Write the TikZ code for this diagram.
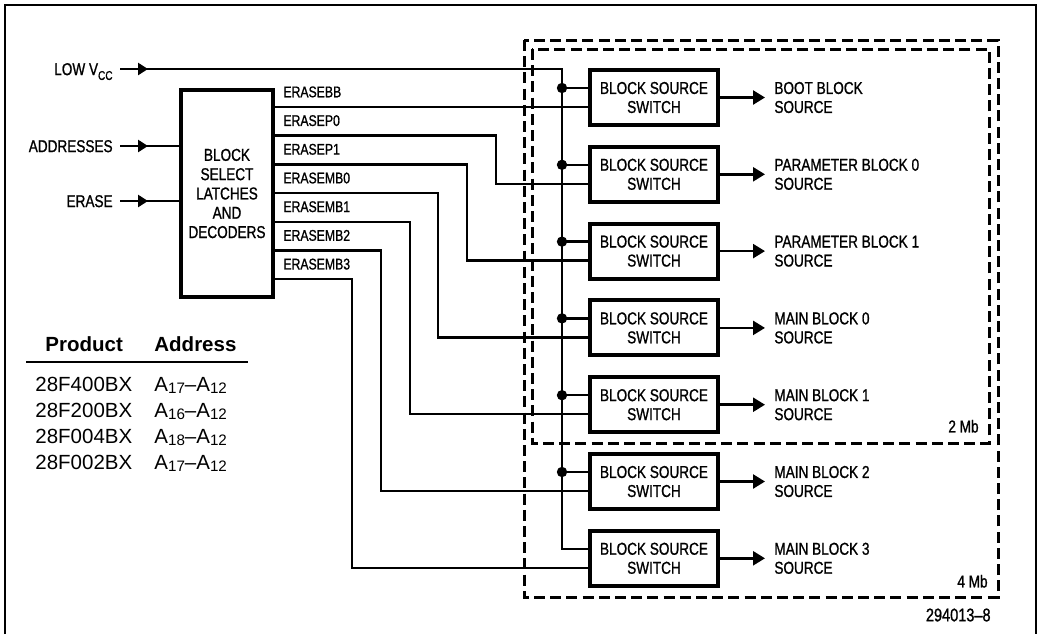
\documentclass[tikz,border=0pt]{standalone}
\usepackage{fontspec}
\setmainfont{Liberation Sans}
\newfontfamily\dinfont[FakeStretch=0.79, FakeBold=1]{Liberation Sans}
\usetikzlibrary{arrows.meta, positioning, decorations.markings}

\newcommand{\lowidx}[2][0.28em]{\raisebox{-#1}{\scalebox{0.74}{#2}}}

\begin{document}
\begin{tikzpicture}[
    x=0.5pt, y=-0.5pt,
    wire/.style={line width=1.25pt},
    latchbox/.style={rectangle, draw, line width=2pt, minimum width=46pt, minimum height=103.5pt, align=center, font=\dinfont\fontsize{8.6}{9.65}\selectfont},
    switchbox/.style={rectangle, draw, line width=2pt, minimum width=64pt, minimum height=27.5pt, align=center, font=\dinfont\fontsize{8.6}{9.5}\selectfont},
    inlabel/.style={anchor=east, inner xsep=3.5pt, inner ysep=0pt, text height=6.1pt, text depth=0pt, font=\dinfont\fontsize{8.6}{9.5}\selectfont},
    siglabel/.style={inner sep=0pt, font=\dinfont\fontsize{7.75}{8}\selectfont},
    outlabel/.style={inner sep=0pt, align=left, font=\dinfont\fontsize{8.6}{9.5}\selectfont},
    sizelabel/.style={inner sep=0pt, font=\dinfont\fontsize{8.6}{9.5}\selectfont},
    dashbox/.style={line width=1.5pt, dash pattern=on 5.5pt off 2.6pt},
    inarrow/.style={wire, postaction={decorate}, decoration={markings, mark=at position 14pt with {\arrow{Triangle[length=5pt,width=6pt]}}}},
    outarrow/.style={wire, -{Triangle[length=6pt,width=7pt]}, shorten >=4.5pt},
    tabhead/.style={anchor=base west, inner sep=0pt, font=\bfseries\fontsize{10.25}{12}\selectfont},
    tabcell/.style={anchor=base west, inner sep=0pt, font=\fontsize{10.25}{12}\selectfont}
]
\useasboundingbox (0,0) rectangle (1039,634);

% Frame
\draw[line width=1pt] (5,634) -- (5,5) -- (1036,5) -- (1036,634);

% Block select latches
\node[latchbox] (latch) at (227,193.5) {BLOCK\\SELECT\\LATCHES\\AND\\DECODERS};

% Inputs
\node[inlabel] (lowvcc) at (120,69) {LOW V\lowidx{CC}};
\node[inlabel] (addr) at (120,146) {ADDRESSES};
\node[inlabel] (erase) at (120,201) {ERASE};

\draw[inarrow] (addr.east) -- (addr.east -| latch.west);
\draw[inarrow] (erase.east) -- (erase.east -| latch.west);

% Block source switches
\node[switchbox] (sw1) at (654,97.5) {BLOCK SOURCE\\SWITCH};
\node[switchbox, below=8.9pt of sw1] (sw2) {BLOCK SOURCE\\SWITCH};
\node[switchbox, below=8.9pt of sw2] (sw3) {BLOCK SOURCE\\SWITCH};
\node[switchbox, below=8.9pt of sw3] (sw4) {BLOCK SOURCE\\SWITCH};
\node[switchbox, below=8.9pt of sw4] (sw5) {BLOCK SOURCE\\SWITCH};
\node[switchbox, below=8.9pt of sw5] (sw6) {BLOCK SOURCE\\SWITCH};
\node[switchbox, below=8.9pt of sw6] (sw7) {BLOCK SOURCE\\SWITCH};

% Switch inputs (upper from Vcc bus, lower from erase lines)
\coordinate (up1) at ([yshift=4.75pt]sw1.west);
\coordinate (up2) at ([yshift=4.75pt]sw2.west);
\coordinate (up3) at ([yshift=4.75pt]sw3.west);
\coordinate (up4) at ([yshift=4.75pt]sw4.west);
\coordinate (up5) at ([yshift=4.75pt]sw5.west);
\coordinate (up6) at ([yshift=4.75pt]sw6.west);
\coordinate (up7) at ([yshift=4.75pt]sw7.west);
\coordinate (in1) at ([yshift=-4.75pt]sw1.west);
\coordinate (in2) at ([yshift=-4.75pt]sw2.west);
\coordinate (in3) at ([yshift=-4.75pt]sw3.west);
\coordinate (in4) at ([yshift=-4.75pt]sw4.west);
\coordinate (in5) at ([yshift=-4.75pt]sw5.west);
\coordinate (in6) at ([yshift=-4.75pt]sw6.west);
\coordinate (in7) at ([yshift=-4.75pt]sw7.west);

% Vcc bus
\coordinate (bustop) at (562,69);
\draw[inarrow] (lowvcc.east) -- (bustop) |- (up7);
\draw[wire] (bustop |- up1) -- (up1);
\draw[wire] (bustop |- up2) -- (up2);
\draw[wire] (bustop |- up3) -- (up3);
\draw[wire] (bustop |- up4) -- (up4);
\draw[wire] (bustop |- up5) -- (up5);
\draw[wire] (bustop |- up6) -- (up6);
\fill (bustop |- up1) circle (2.6pt);
\fill (bustop |- up2) circle (2.6pt);
\fill (bustop |- up3) circle (2.6pt);
\fill (bustop |- up4) circle (2.6pt);
\fill (bustop |- up5) circle (2.6pt);
\fill (bustop |- up6) circle (2.6pt);

% Erase lines out of the latches
\coordinate (eBB) at (latch.east |- in1);
\coordinate[below=14.35pt of eBB] (eP0);
\coordinate[below=14.35pt of eP0] (eP1);
\coordinate[below=14.35pt of eP1] (eMB0);
\coordinate[below=14.35pt of eMB0] (eMB1);
\coordinate[below=14.35pt of eMB1] (eMB2);
\coordinate[below=14.35pt of eMB2] (eMB3);

\node[siglabel, above right=4.6pt and 4pt of eBB] (lblBB) {ERASEBB};
\node[siglabel, above right=4.6pt and 4pt of eP0] (lblP0) {ERASEP0};
\node[siglabel, above right=4.6pt and 4pt of eP1] (lblP1) {ERASEP1};
\node[siglabel, above right=4.6pt and 4pt of eMB0] (lblMB0) {ERASEMB0};
\node[siglabel, above right=4.6pt and 4pt of eMB1] (lblMB1) {ERASEMB1};
\node[siglabel, above right=4.6pt and 4pt of eMB2] (lblMB2) {ERASEMB2};
\node[siglabel, above right=4.6pt and 4pt of eMB3] (lblMB3) {ERASEMB3};

% columns where the erase lines turn down
\coordinate (colP0) at (496,0);
\coordinate (colP1) at (467,0);
\coordinate (colMB0) at (438,0);
\coordinate (colMB1) at (410,0);
\coordinate (colMB2) at (381,0);
\coordinate (colMB3) at (352,0);

\draw[wire] (eBB) -- (in1);
\draw[wire] (eP0) -| (colP0 |- in2) -- (in2);
\draw[wire] (eP1) -| (colP1 |- in3) -- (in3);
\draw[wire] (eMB0) -| (colMB0 |- in4) -- (in4);
\draw[wire] (eMB1) -| (colMB1 |- in5) -- (in5);
\draw[wire] (eMB2) -| (colMB2 |- in6) -- (in6);
\draw[wire] (eMB3) -| (colMB3 |- in7) -- (in7);

% Block source outputs
\node[outlabel, right=27pt of sw1] (out1) {BOOT BLOCK\\SOURCE};
\node[outlabel, right=27pt of sw2] (out2) {PARAMETER BLOCK 0\\SOURCE};
\node[outlabel, right=27pt of sw3] (out3) {PARAMETER BLOCK 1\\SOURCE};
\node[outlabel, right=27pt of sw4] (out4) {MAIN BLOCK 0\\SOURCE};
\node[outlabel, right=27pt of sw5] (out5) {MAIN BLOCK 1\\SOURCE};
\node[outlabel, right=27pt of sw6] (out6) {MAIN BLOCK 2\\SOURCE};
\node[outlabel, right=27pt of sw7] (out7) {MAIN BLOCK 3\\SOURCE};

\draw[outarrow] (sw1) -- (out1);
\draw[outarrow] (sw2) -- (out2);
\draw[outarrow] (sw3) -- (out3);
\draw[outarrow] (sw4) -- (out4);
\draw[outarrow] (sw5) -- (out5);
\draw[outarrow] (sw6) -- (out6);
\draw[outarrow] (sw7) -- (out7);

% 4 Mb and 2 Mb outlines
\draw[dashbox] (524,40) rectangle (998,597) coordinate (mb4se);
\draw[dashbox] (532,49) rectangle (989,443) coordinate (mb2se);
\node[sizelabel, above left=4.5pt and 5pt of mb4se] (mb4) {4 Mb};
\node[sizelabel, above left=5pt and 5pt of mb2se] (mb2) {2 Mb};

\node[anchor=east, inner sep=0pt, font=\dinfont\fontsize{9.2}{9.5}\selectfont] (fignum) at (991,615) {294013\textendash 8};

% Product / address table
\node[tabhead] (hprod) at (45,351.5) {Product};
\node[tabhead] (haddr) at (154,351.5) {Address};
\draw[line width=0.65pt] (26,362) -- (248,362);

\node[tabcell] (prod1) at (35,391) {28F400BX};
\node[tabcell] (addr1) at (154,391) {A\lowidx[0.13em]{17}\textendash A\lowidx[0.13em]{12}};
\node[tabcell] (prod2) at (35,417) {28F200BX};
\node[tabcell] (addr2) at (154,417) {A\lowidx[0.13em]{16}\textendash A\lowidx[0.13em]{12}};
\node[tabcell] (prod3) at (35,443) {28F004BX};
\node[tabcell] (addr3) at (154,443) {A\lowidx[0.13em]{18}\textendash A\lowidx[0.13em]{12}};
\node[tabcell] (prod4) at (35,469) {28F002BX};
\node[tabcell] (addr4) at (154,469) {A\lowidx[0.13em]{17}\textendash A\lowidx[0.13em]{12}};

\end{tikzpicture}
\end{document}
